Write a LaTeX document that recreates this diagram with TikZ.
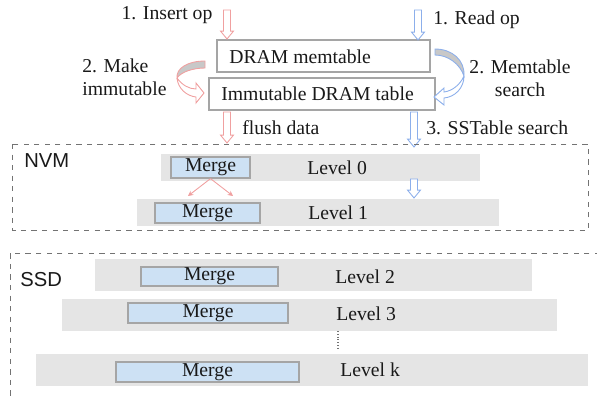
\documentclass[tikz,border=0pt]{standalone}
\usepackage{fontspec}
\setmainfont{Liberation Serif}
\setsansfont{Liberation Sans}
\usepackage{tikz}
\usetikzlibrary{positioning, calc, fit, arrows.meta}
\definecolor{lsmPink}{RGB}{240,160,160}
\definecolor{lsmBlue}{RGB}{140,175,235}
\definecolor{lsmBar}{RGB}{229,229,229}
\definecolor{lsmMerge}{RGB}{205,225,244}
\definecolor{lsmBorder}{RGB}{165,165,165}
\definecolor{lsmDash}{RGB}{115,115,115}
\definecolor{lsmCurl}{RGB}{200,200,200}
\definecolor{lsmText}{RGB}{25,25,25}
\tikzset{
    base/.style={
        font=\fontsize{11.2}{13}\selectfont,
        text=lsmText,
        inner sep=0pt
    },
    memtab/.style={
        draw=lsmBorder,
        fill=white,
        line width=0.6pt,
        inner sep=0pt
    },
    levelbar/.style={
        fill=lsmBar,
        inner sep=0pt
    },
    mergebox/.style={
        draw=lsmBorder,
        fill=lsmMerge,
        line width=0.7pt,
        inner sep=0pt,
        label={[base]center:Merge}
    },
    tier/.style={
        draw=lsmDash,
        dashed,
        line width=0.5pt
    },
    tiername/.style={
        font=\sffamily\fontsize{11.5}{13}\selectfont,
        text=lsmText,
        inner sep=0pt,
        anchor=west
    },
    spill/.style={
        -{Stealth[length=3pt, width=3pt]},
        lsmPink,
        line width=0.5pt
    }
}
% hollow block arrow pointing down: colour, top, tip
\newcommand{\hollowarrow}[3]{%
    \draw[#1, fill=white, line width=0.5pt] let \p1=(#2), \p2=(#3) in
        (\x1-2pt,\y1) -- (\x1+2pt,\y1) -- (\x1+2pt,\y2+4.5pt)
        -- (\x1+3.7pt,\y2+4.5pt) -- (\x1,\y2) -- (\x1-3.7pt,\y2+4.5pt)
        -- (\x1-2pt,\y2+4.5pt) -- cycle;}

\begin{document}
\begin{tikzpicture}[x=0.02cm, y=-0.02cm]
    \useasboundingbox (0,0) rectangle (597,399);
    \clip (0,0) rectangle (597,399);

    % DRAM part
    \node[memtab, fit={(217,40) (430,72)}] (mem) {};
    \node[memtab, fit={(209,78) (435,110)}] (imm) {};
    \node[base, anchor=west] (memtxt) at (229,57) {DRAM memtable};
    \node[base, anchor=west] (immtxt) at (221,94) {Immutable DRAM table};

    \coordinate (insTop) at (227,10);
    \coordinate (insEnd) at (227,39);
    \coordinate (readTop) at (418,10);
    \coordinate (readEnd) at (418,40);
    \coordinate (flushTop) at (227,112);
    \coordinate (flushEnd) at (227,143);
    \coordinate (sstTop) at (414,112);
    \coordinate (sstEnd) at (414,147);
    \coordinate (nextTop) at (414,179);
    \coordinate (nextEnd) at (414,198);

    \hollowarrow{lsmPink}{insTop}{insEnd}
    \hollowarrow{lsmBlue}{readTop}{readEnd}
    \hollowarrow{lsmPink}{flushTop}{flushEnd}
    \hollowarrow{lsmBlue}{sstTop}{sstEnd}

    \node[base] (instxt) at (167,15) {1. Insert op};
    \node[base, anchor=west] (readtxt) at (433,20) {1. Read op};
    \node[base, anchor=west, align=left] (maketxt) at (82,77) {2. Make\\immutable};
    \node[base, align=center] (searchtxt) at (520,78) {2. Memtable\\search};
    \node[base, anchor=west] (flushtxt) at (242,128) {flush data};
    \node[base, anchor=west] (ssttxt) at (426,128) {3. SSTable search};

    % curled arrows
    \draw[lsmPink, fill=lsmCurl, line width=0.5pt] (205,61) .. controls (188,61) and (176,68) .. (177,78)
        .. controls (181,72) and (193,68) .. (205,68) -- cycle;
    \draw[lsmPink, fill=white, line width=0.5pt] (177,78) .. controls (178,89) and (187,96) .. (196,97)
        -- (196,103) -- (204,93) -- (196,83) -- (196,89) .. controls (189,89) and (182,85) .. (177,78);
    \draw[lsmBlue, fill=lsmCurl, line width=0.5pt] (435,49) .. controls (452,49) and (465,60) .. (464,76)
        .. controls (460,64) and (448,55) .. (435,55) -- cycle;
    \draw[lsmBlue, fill=white, line width=0.5pt] (464,76) .. controls (464,88) and (455,97) .. (444,98)
        -- (444,105) -- (434,97) -- (444,88) -- (444,92) .. controls (452,91) and (460,85) .. (464,76);

    % NVM
    \draw[tier] (12,144) rectangle (588,230);
    \node[tiername] (nvm) at (24,161) {NVM};
    \node[levelbar, fit={(161,154) (480,181)}] (lv0) {};
    \node[levelbar, fit={(137,199) (499,226)}] (lv1) {};
    \node[mergebox, fit={(171,157) (250,178)}] (m0) {};
    \node[mergebox, fit={(155,203) (260,223)}] (m1) {};
    \node[base, anchor=west] (t0) at (307,168) {Level 0};
    \node[base, anchor=west] (t1) at (308,213) {Level 1};
    \hollowarrow{lsmBlue}{nextTop}{nextEnd}
    \coordinate (spillL) at (188,196);
    \coordinate (spillR) at (233,196);
    \draw[spill] (m0.south) -- (spillL);
    \draw[spill] (m0.south) -- (spillR);

    % SSD
    \draw[tier] (600,253) -- (10,253) -- (10,402);
    \node[tiername] (ssd) at (20,280) {SSD};
    \node[levelbar, fit={(95,259) (532,291)}] (lv2) {};
    \node[levelbar, fit={(62,299) (557,331)}] (lv3) {};
    \node[levelbar, fit={(36,354) (588,386)}] (lvk) {};
    \node[mergebox, fit={(141,267) (278,286)}] (m2) {};
    \node[mergebox, fit={(128,303) (288,323)}] (m3) {};
    \node[mergebox, fit={(116,362) (299,382)}] (mk) {};
    \node[base, anchor=west] (t2) at (335,277) {Level 2};
    \node[base, anchor=west] (t3) at (336,314) {Level 3};
    \node[base, anchor=west] (tk) at (340,370) {Level k};
    \coordinate (dotTop) at (338,331);
    \coordinate (dotEnd) at (338,349);
    \draw[lsmDash, densely dotted, line width=0.6pt] (dotTop) -- (dotEnd);
\end{tikzpicture}
\end{document}
